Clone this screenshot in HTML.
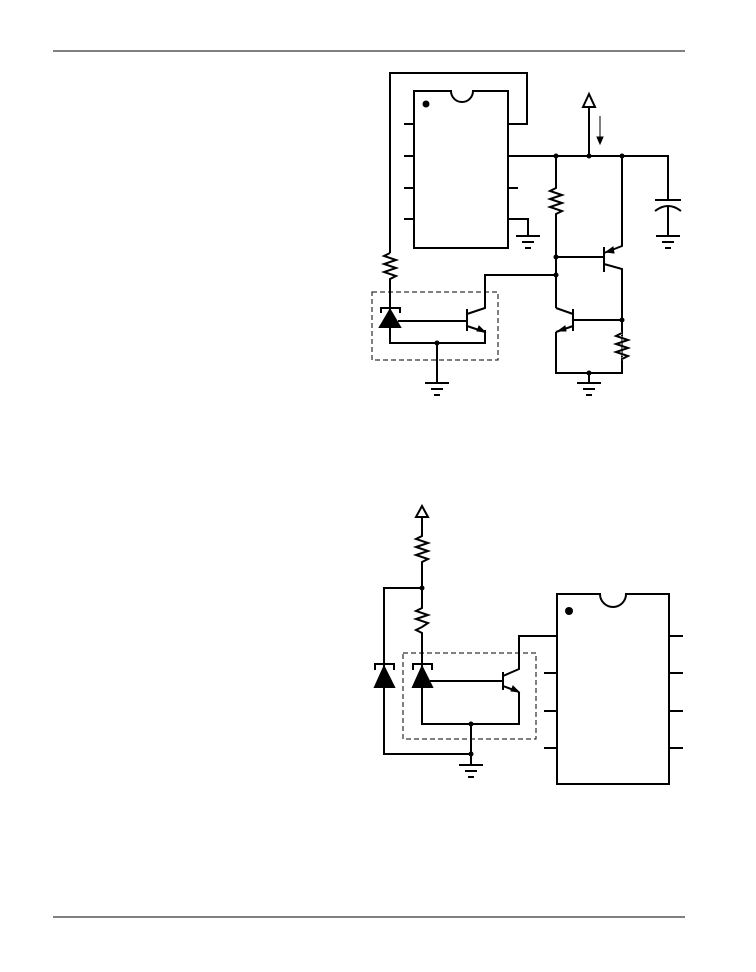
<!DOCTYPE html>
<html><head><style>body{margin:0;background:#fff}svg{display:block}</style></head><body>
<svg width="756" height="972" viewBox="0 0 756 972" xmlns="http://www.w3.org/2000/svg" fill="none" stroke="#000" stroke-width="2">
<line x1="53" y1="51" x2="685" y2="51" stroke-width="1"/>
<line x1="53" y1="917" x2="685" y2="917" stroke-width="1"/>
<!-- TOP DIAGRAM -->
<path d="M414 91 H451 A11 11 0 0 0 473 91 H508 V248 H414 Z"/>
<circle cx="426" cy="104" r="3.5" fill="#000" stroke="none"/>
<path d="M404 124H414M404 156H414M404 188H414M404 219H414"/>
<path d="M508 188H518"/>
<path d="M508 124H527V73H390V253"/>
<path d="M390 253 l-6 3 l12 4 l-12 4 l12 4 l-12 4 l12 4 l-6 3 V310"/>
<path d="M508 219H528V236"/>
<path d="M516 236H540M522 242H534M525 248H531"/>
<path d="M508 156H668V199"/>
<path d="M655 200H681"/>
<path d="M655 211 Q668 201 681 211"/>
<path d="M668 206V236M656 236H680M662 242H674M665 248H671"/>
<path d="M589 156V107"/>
<path d="M589 94 L583 107 H595 Z"/>
<path d="M600 116V140" stroke-width="1"/>
<path d="M597 137 L600 144 L603 137 Z" fill="#000" stroke-width="1"/>
<circle cx="556" cy="156" r="2.5" fill="#000" stroke="none"/>
<circle cx="589" cy="156" r="2.5" fill="#000" stroke="none"/>
<circle cx="622" cy="156" r="2.5" fill="#000" stroke="none"/>
<path d="M556 156V188 l-6 3 l12 4 l-12 4 l12 4 l-12 4 l12 4 l-6 3 V308"/>
<circle cx="556" cy="257" r="2.5" fill="#000" stroke="none"/>
<circle cx="556" cy="275" r="2.5" fill="#000" stroke="none"/>
<path d="M556 257H604M604 247V272"/>
<path d="M604 253L622 246V156"/>
<path d="M606 252 l7 -5 l1 6 Z" fill="#000" stroke-width="1"/>
<path d="M604 264L622 269V373H556V332"/>
<circle cx="622" cy="320" r="2.5" fill="#000" stroke="none"/>
<path d="M622 333 l-6 3 l12 4 l-12 4 l12 4 l-12 4 l12 4 l-6 3" fill="none" stroke="#fff" stroke-width="3"/>
<path d="M622 333 l-6 3 l12 4 l-12 4 l12 4 l-12 4 l12 4 l-6 3"/>
<path d="M573 320H622M573 309V331"/>
<path d="M556 308L573 314M573 326L556 332"/>
<path d="M558 331 l7 -5 l1 5 Z" fill="#000" stroke-width="1"/>
<circle cx="589" cy="373" r="2.5" fill="#000" stroke="none"/>
<path d="M589 373V383M577 383H601M583 389H595M586 395H592"/>
<!-- opto top -->
<rect x="372" y="292" width="126" height="68" stroke-width="1" stroke-dasharray="5,3"/>
<path d="M381 313V308H400V313"/>
<path d="M390 310L380 327H400Z" fill="#000"/>
<path d="M390 327V343H485V330"/>
<path d="M398 321H467M467 309V331"/>
<path d="M467 314L485 308V275H556"/>
<path d="M467 326L485 332"/>
<path d="M485 332 l-8 -1 l2 -5 Z" fill="#000" stroke-width="1"/>
<circle cx="437" cy="343" r="2.5" fill="#000" stroke="none"/>
<path d="M437 343V383M425 383H449M431 389H443M434 395H440"/>
<!-- BOTTOM DIAGRAM -->
<path d="M422 506 L416 517 H428 Z"/>
<path d="M422 517V536 l-6 3 l12 4 l-12 4 l12 4 l-12 4 l12 4 l-6 3 V608 l-6 3 l12 4 l-12 4 l12 4 l-6 4 l-6 3 l6 3 V668"/>
<circle cx="422" cy="588" r="2.5" fill="#000" stroke="none"/>
<path d="M422 588H384V668"/>
<path d="M375 670V664H394V670"/>
<path d="M384 667L375 687H394Z" fill="#000"/>
<path d="M384 687V754H471"/>
<rect x="403" y="653" width="133" height="86" stroke-width="1" stroke-dasharray="5,3"/>
<path d="M413 670V664H432V670"/>
<path d="M422 667L413 687H432Z" fill="#000"/>
<path d="M422 687V724H519V692"/>
<path d="M430 681H503M503 672V690"/>
<path d="M503 676L519 669V636H557"/>
<path d="M503 686L519 692"/>
<path d="M519 692 l-8 -1 l2 -5 Z" fill="#000" stroke-width="1"/>
<circle cx="471" cy="724" r="2.5" fill="#000" stroke="none"/>
<circle cx="471" cy="754" r="2.5" fill="#000" stroke="none"/>
<path d="M471 724V765M459 765H483M465 771H477M468 777H474"/>
<path d="M557 594 H600 A13 13 0 0 0 626 594 H669 V784 H557 Z"/>
<circle cx="569" cy="611" r="4" fill="#000" stroke="none"/>
<path d="M544 673H557M544 711H557M544 748H557"/>
<path d="M669 636H683M669 673H683M669 711H683M669 748H683"/>
</svg>
</body></html>
